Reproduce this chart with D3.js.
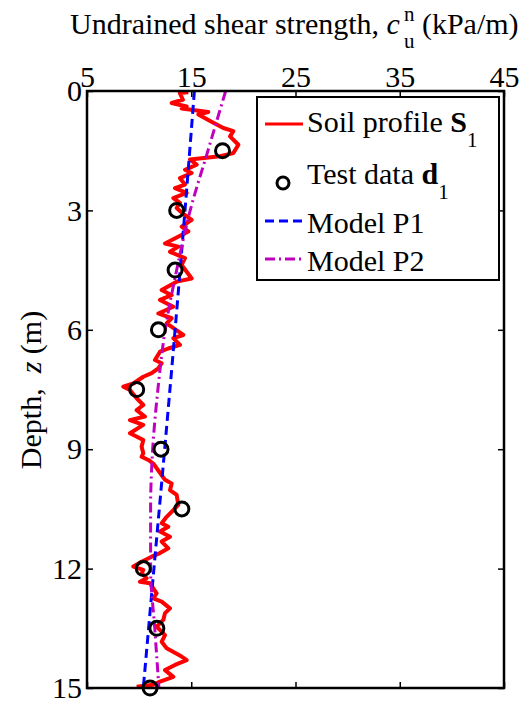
<!DOCTYPE html>
<html><head><meta charset="utf-8">
<script src="https://cdn.jsdelivr.net/npm/d3@7"></script>
<style>body{margin:0;background:#fff;} svg{display:block;}</style>
</head><body>
<svg id="c" width="522" height="706"></svg>
<script>
// ---- data ----
const xTicks = [5, 15, 25, 35, 45];
const yTicks = [0, 3, 6, 9, 12, 15];
const profileDepth = [0.03,0.05,0.22,0.30,0.39,0.44,0.53,0.59,0.80,0.93,1.01,1.14,1.35,1.56,1.64,1.72,1.85,1.98,2.06,2.19,2.35,2.44,2.56,2.69,2.81,2.94,3.09,3.24,3.41,3.53,3.83,3.91,4.04,4.20,4.37,4.54,4.71,4.79,5.00,5.13,5.25,5.42,5.59,5.71,5.84,6.13,6.21,6.38,6.47,6.55,6.76,6.84,6.97,7.09,7.18,7.35,7.43,7.51,7.72,7.89,8.02,8.18,8.27,8.39,8.60,8.77,8.94,9.10,9.19,9.27,9.36,9.77,9.86,10.03,10.15,10.40,10.53,10.70,10.86,10.95,11.07,11.20,11.32,11.49,11.61,11.70,11.83,11.95,12.03,12.12,12.24,12.33,12.37,12.62,12.75,12.83,13.00,13.12,13.29,13.46,13.67,13.84,14.00,14.21,14.30,14.42,14.55,14.72,14.84,14.92,14.97];
const profileValue = [14.72,13.9,14.2,13.12,14.56,14.08,16.64,15.68,17.12,18.08,19.04,18.72,19.52,19.04,17.76,14.88,15.52,14.4,15.04,13.92,14.4,13.44,14.56,13.28,13.92,13.6,14.24,15.04,14.08,14.72,12.48,13.76,12.96,14.4,14.08,14.56,15.04,13.6,12.16,13.12,12.0,13.28,11.84,13.12,12.64,14.24,13.28,13.92,12.8,12.0,11.52,12.16,11.84,11.2,10.4,9.44,8.48,9.12,9.76,10.4,9.76,10.56,9.12,10.4,9.12,10.4,10.24,10.4,10.24,10.88,11.36,12.48,13.12,12.96,13.6,13.76,13.28,12.64,12.16,12.8,12.0,12.96,12.16,12.8,12.0,11.2,10.24,9.44,10.4,10.24,10.72,10.08,11.04,11.68,11.36,12.16,12.96,12.48,12.32,11.68,12.48,12.16,12.64,14.08,14.56,13.44,12.48,13.28,12.0,11.36,9.76];
const testDepth = [1.5, 3, 4.5, 6, 7.5, 9, 10.5, 12, 13.5, 15];
const testValue = [18.0, 13.6, 13.45, 11.85, 9.77, 12.1, 14.1, 10.4, 11.7, 11.05];
const p1Depth = [0, 3, 6, 9, 12, 15];
const p1Value = [15.3, 14.4, 13.45, 12.45, 11.42, 10.4];
const p2Depth = [0, 1.5, 3, 4.5, 6, 7.5, 9, 10.5, 12, 13.5, 15];
const p2Value = [18.3, 16.6, 14.9, 13.6, 12.5, 11.8, 11.3, 11.1, 11.1, 11.5, 11.9];

// ---- layout ----
const FONT = "'Liberation Serif','Times New Roman','DejaVu Serif',serif";
const L = 87, R = 504, T = 91, B = 688;
const svg = d3.select("#c");
const x = d3.scaleLinear().domain([5, 45]).range([L, R]);
const y = d3.scaleLinear().domain([0, 15]).range([T, B]);

svg.append("defs").append("clipPath").attr("id","clip")
  .append("rect").attr("x",L).attr("y",T).attr("width",R-L).attr("height",B-T);

const line = d3.line().x(d => x(d[1])).y(d => y(d[0]));
const g = svg.append("g").attr("clip-path","url(#clip)");

g.append("path").datum(profileDepth.map((d,i)=>[d, profileValue[i]]))
  .attr("d", line).attr("fill","none").attr("stroke","#ff0000").attr("stroke-width",4).attr("stroke-linejoin","round");
g.append("path").datum(p1Depth.map((d,i)=>[d, p1Value[i]]))
  .attr("d", d3.line().curve(d3.curveMonotoneY).x(d=>x(d[1])).y(d=>y(d[0])))
  .attr("fill","none").attr("stroke","#0000ff").attr("stroke-width",3).attr("stroke-dasharray","9,5");
g.append("path").datum(p2Depth.map((d,i)=>[d, p2Value[i]]))
  .attr("d", d3.line().curve(d3.curveMonotoneY).x(d=>x(d[1])).y(d=>y(d[0])))
  .attr("fill","none").attr("stroke","#bf00bf").attr("stroke-width",3).attr("stroke-dasharray","10,4,2,4");

svg.append("g").selectAll("circle").data(testDepth.map((d,i)=>[d,testValue[i]])).join("circle")
  .attr("cx", d=>x(d[1])).attr("cy", d=>y(d[0])).attr("r",7)
  .attr("fill","none").attr("stroke","#000").attr("stroke-width",3);

// ---- axes (inward ticks, MATLAB style) ----
const fs = 30;
const axTop = d3.axisTop(x).tickValues(xTicks).tickSize(-6).tickPadding(4);
const axBot = d3.axisBottom(x).tickValues(xTicks).tickSize(-6).tickFormat("");
const axLeft = d3.axisLeft(y).tickValues(yTicks).tickSize(-6).tickPadding(5);
const axRight = d3.axisRight(y).tickValues(yTicks).tickSize(-6).tickFormat("");
function style(sel){
  sel.attr("font-family", FONT).attr("font-size", fs);
  sel.selectAll(".domain").remove();
  sel.selectAll(".tick line").attr("stroke","#000").attr("stroke-width",1.5);
  sel.selectAll("text").attr("font-size",fs).attr("fill","#000").attr("font-family",FONT);
}
svg.append("g").attr("transform",`translate(0,${T})`).call(axTop).call(style);
svg.append("g").attr("transform",`translate(0,${B})`).call(axBot).call(style);
svg.append("g").attr("transform",`translate(${L},0)`).call(axLeft).call(style);
svg.append("g").attr("transform",`translate(${R},0)`).call(axRight).call(style);
svg.append("rect").attr("x",L).attr("y",T).attr("width",R-L).attr("height",B-T)
  .attr("fill","none").attr("stroke","#000").attr("stroke-width",2.5);

// ---- legend ----
const lg = svg.append("g").attr("font-family", FONT);
lg.append("rect").attr("x",257).attr("y",97).attr("width",242).attr("height",183)
  .attr("fill","#fff").attr("stroke","#000").attr("stroke-width",2);
lg.append("line").attr("x1",265).attr("x2",303).attr("y1",124).attr("y2",124).attr("stroke","#ff0000").attr("stroke-width",3);
lg.append("circle").attr("cx",283).attr("cy",183).attr("r",6).attr("fill","none").attr("stroke","#000").attr("stroke-width",3);
lg.append("line").attr("x1",265).attr("x2",303).attr("y1",221).attr("y2",221).attr("stroke","#0000ff").attr("stroke-width",3).attr("stroke-dasharray","9,5");
lg.append("line").attr("x1",265).attr("x2",303).attr("y1",259).attr("y2",259).attr("stroke","#bf00bf").attr("stroke-width",3).attr("stroke-dasharray","10,4,2,4");
function legText(yb, main, bold, sub){
  const t = lg.append("text").attr("x",307).attr("y",yb).attr("font-size",fs).attr("font-family",FONT)
    .attr("xml:space","preserve").style("white-space","pre");
  t.append("tspan").text(main);
  if (bold){
    t.append("tspan").attr("font-weight","bold").text(bold);
    t.append("tspan").attr("font-size",21).attr("dy",15).text(sub);
  }
}
legText(132, "Soil profile ", "S", "1");
legText(184, "Test data ", "d", "1");
legText(233, "Model P1");
legText(271, "Model P2");

// ---- titles ----
const tt = svg.append("text").attr("x",70).attr("y",34).attr("font-size",fs).attr("font-family",FONT)
  .style("white-space","pre");
tt.append("tspan").text("Undrained shear strength, ");
tt.append("tspan").attr("font-style","italic").text("c");
const w = tt.node().getComputedTextLength();
svg.append("text").attr("x",70+w+4).attr("y",21).attr("font-size",21).attr("font-family",FONT).text("n");
svg.append("text").attr("x",70+w+4).attr("y",48).attr("font-size",21).attr("font-family",FONT).text("u");
svg.append("text").attr("x",70+w+22).attr("y",34).attr("font-size",fs).attr("font-family",FONT).text("(kPa/m)");

const yl = svg.append("text").attr("transform","translate(41,390) rotate(-90)")
  .attr("text-anchor","middle").attr("font-size",fs).attr("font-family",FONT).style("white-space","pre");
yl.append("tspan").text("Depth,  ");
yl.append("tspan").attr("font-style","italic").text("z");
yl.append("tspan").text(" (m)");
</script>
</body></html>
